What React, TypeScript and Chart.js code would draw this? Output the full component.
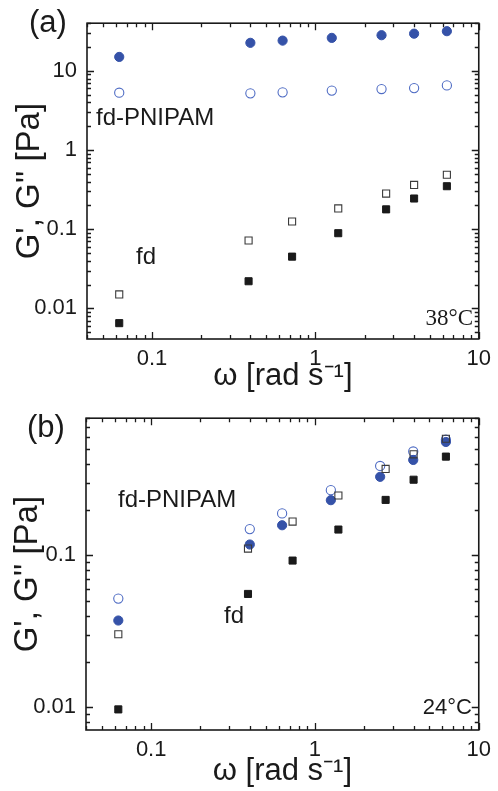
import React, { useEffect, useRef } from "react";
import { Chart, registerables } from "chart.js";

Chart.register(...registerables);

// ---------- data ----------
// angular frequency ω [rad/s]
const aOmegaCircle = [0.063, 0.40, 0.63, 1.26, 2.54, 4.02, 6.38];
const aOmegaSquare = [0.063, 0.39, 0.72, 1.38, 2.71, 4.02, 6.38];
// (a) 38 °C
const aPnipamG1 = [15, 22.6, 24.1, 26.1, 28.2, 29.5, 31.7]; // filled circles G'
const aPnipamG2 = [5.3, 5.2, 5.35, 5.63, 5.89, 6.06, 6.55]; // open circles G''
const aFdG2 = [0.015, 0.072, 0.125, 0.183, 0.282, 0.362, 0.487]; // open squares G''
const aFdG1 = [0.0065, 0.022, 0.045, 0.089, 0.178, 0.244, 0.349]; // filled squares G'

// (b) 24 °C
const bOmegaCircle = [0.063, 0.40, 0.63, 1.25, 2.5, 3.98, 6.3];
const bOmegaSquare = [0.063, 0.39, 0.73, 1.39, 2.7, 4.0, 6.3];
const bPnipamG2 = [0.052, 0.149, 0.189, 0.269, 0.388, 0.483, 0.577]; // open circles
const bPnipamG1 = [0.0373, 0.118, 0.158, 0.231, 0.329, 0.425, 0.558]; // filled circles
const bFdG2 = [0.0303, 0.111, 0.167, 0.248, 0.371, 0.463, 0.586]; // open squares
const bFdG1 = [0.0097, 0.0558, 0.0925, 0.148, 0.232, 0.315, 0.447]; // filled squares

const xTicks = [0.1, 1, 10];
const aYTicks = [0.01, 0.1, 1, 10];
const bYTicks = [0.01, 0.1];
const minorMultipliers = [1, 2, 3, 4, 5, 6, 7, 8, 9];

const xTitle = "ω [rad s⁻¹]";
const yTitle = "G', G'' [Pa]";

// ---------- styles ----------
const SANS = "'Liberation Sans', Arial, Helvetica, sans-serif";
const SERIF = "'Liberation Serif', 'Times New Roman', serif";
const BLUE = "#3552a8";
const BLUE_OPEN = "#4f6cc4";
const BLACK = "#1a1a1a";
const OPEN_SQ = "#3a3a3a";

const pts = (xs: number[], ys: number[]) => xs.map((x, i) => ({ x, y: ys[i] }));

const filledCircle = (data: any) => ({
  data, pointStyle: "circle", pointRadius: 4.6, backgroundColor: BLUE, borderColor: BLUE, borderWidth: 1, showLine: false,
});
const openCircle = (data: any) => ({
  data, pointStyle: "circle", pointRadius: 4.6, backgroundColor: "rgba(255,255,255,0)", borderColor: BLUE_OPEN, borderWidth: 1.1, showLine: false,
});
const filledSquare = (data: any) => ({
  data, pointStyle: "rect", pointRadius: 5, backgroundColor: BLACK, borderColor: BLACK, borderWidth: 1, showLine: false,
});
const openSquare = (data: any) => ({
  data, pointStyle: "rect", pointRadius: 5, backgroundColor: "rgba(255,255,255,0)", borderColor: OPEN_SQ, borderWidth: 1.1, showLine: false,
});

const frameTicks = {
  id: "frameTicks",
  afterDraw(chart: any) {
    const { ctx, chartArea } = chart;
    const { left, right, top, bottom } = chartArea;
    const xs = chart.scales.x;
    const ys = chart.scales.y;
    ctx.save();
    ctx.strokeStyle = "#1a1a1a";
    ctx.lineWidth = 1.3;
    const each = (scale: any, fn: (p: number, len: number) => void) => {
      const lo = Math.floor(Math.log10(scale.min));
      const hi = Math.ceil(Math.log10(scale.max));
      for (let d = lo; d <= hi; d++) {
        minorMultipliers.forEach((k) => {
          const v = k * Math.pow(10, d);
          if (v < scale.min * 0.999 || v > scale.max * 1.001) return;
          fn(scale.getPixelForValue(v), k === 1 ? 7 : 4);
        });
      }
    };
    ctx.beginPath();
    each(xs, (p, len) => {
      const px = Math.round(p) + 0.5;
      ctx.moveTo(px, bottom); ctx.lineTo(px, bottom - len);
      ctx.moveTo(px, top); ctx.lineTo(px, top + len);
    });
    each(ys, (p, len) => {
      const py = Math.round(p) + 0.5;
      ctx.moveTo(left, py); ctx.lineTo(left + len, py);
      ctx.moveTo(right, py); ctx.lineTo(right - len, py);
    });
    ctx.stroke();
    ctx.lineWidth = 1.6;
    ctx.strokeRect(left, top, right - left, bottom - top);
    ctx.restore();
  },
};

type Label = { text: string; x: number; y: number; font: string; align?: CanvasTextAlign };

const labelsPlugin = (labels: Label[]) => ({
  id: "panelLabels",
  afterDraw(chart: any) {
    const { ctx } = chart;
    ctx.save();
    ctx.fillStyle = "#1a1a1a";
    ctx.textBaseline = "middle";
    labels.forEach((l) => {
      ctx.font = l.font;
      ctx.textAlign = l.align || "left";
      ctx.fillText(l.text, l.x, l.y);
    });
    ctx.restore();
  },
});

function makeConfig(opts: {
  datasets: any[];
  yMin: number; yMax: number; yTicks: number[];
  yWidth: number; xHeight: number;
  padTop: number; padRight: number;
  yTitlePad: number; xTitlePad: number;
  labels: Label[];
}) {
  return {
    type: "scatter",
    data: { datasets: opts.datasets },
    options: {
      animation: false,
      responsive: false,
      devicePixelRatio: 1,
      layout: { padding: { top: opts.padTop, right: opts.padRight, left: 0, bottom: 0 } },
      plugins: { legend: { display: false }, tooltip: { enabled: false } },
      scales: {
        x: {
          type: "logarithmic",
          min: 0.04, max: 10,
          afterBuildTicks: (s: any) => { s.ticks = xTicks.map((v) => ({ value: v })); },
          afterFit: (s: any) => { s.height = opts.xHeight; },
          grid: { display: false, drawTicks: false },
          border: { display: false },
          ticks: {
            color: "#1a1a1a", padding: 7, maxRotation: 0, autoSkip: false,
            font: { family: SANS, size: 22 },
            callback: (v: any) => String(v),
          },
          title: {
            display: true, text: xTitle, color: "#1a1a1a",
            font: { family: SANS, size: 31 }, padding: { top: 0, bottom: opts.xTitlePad },
          },
        },
        y: {
          type: "logarithmic",
          min: opts.yMin, max: opts.yMax,
          afterBuildTicks: (s: any) => { s.ticks = opts.yTicks.map((v) => ({ value: v })); },
          afterFit: (s: any) => { s.width = opts.yWidth; },
          grid: { display: false, drawTicks: false },
          border: { display: false },
          ticks: {
            color: "#1a1a1a", padding: 10, autoSkip: false,
            font: { family: SANS, size: 22 },
            callback: (v: any) => String(v),
          },
          title: {
            display: true, text: yTitle, color: "#1a1a1a",
            font: { family: SANS, size: 33 }, padding: { top: opts.yTitlePad, bottom: 0 },
          },
        },
      },
    },
    plugins: [frameTicks, labelsPlugin(opts.labels)],
  } as any;
}

function Panel({ config, height }: { config: () => any; height: number }) {
  const ref = useRef<HTMLCanvasElement | null>(null);
  useEffect(() => {
    if (!ref.current) return;
    const chart = new Chart(ref.current, config());
    return () => chart.destroy();
  }, []);
  return <canvas ref={ref} width={498} height={height} style={{ display: "block", width: 498, height }} />;
}

const configA = () =>
  makeConfig({
    datasets: [
      filledCircle(pts(aOmegaCircle, aPnipamG1)),
      openCircle(pts(aOmegaCircle, aPnipamG2)),
      openSquare(pts(aOmegaSquare, aFdG2)),
      filledSquare(pts(aOmegaSquare, aFdG1)),
    ],
    yMin: 0.0041, yMax: 40, yTicks: aYTicks,
    yWidth: 87, xHeight: 56, padTop: 19, padRight: 17,
    yTitlePad: 10, xTitlePad: 0,
    labels: [
      { text: "(a)", x: 29, y: 23, font: `31px ${SANS}` },
      { text: "fd-PNIPAM", x: 96, y: 118, font: `24px ${SANS}` },
      { text: "fd", x: 136, y: 257, font: `24px ${SANS}` },
      { text: "38°C", x: 473, y: 319, font: `23px ${SERIF}`, align: "right" },
    ],
  });

const configB = () =>
  makeConfig({
    datasets: [
      filledSquare(pts(bOmegaSquare, bFdG1)),
      openSquare(pts(bOmegaSquare, bFdG2)),
      filledCircle(pts(bOmegaCircle, bPnipamG1)),
      openCircle(pts(bOmegaCircle, bPnipamG2)),
    ],
    yMin: 0.0071, yMax: 0.8, yTicks: bYTicks,
    yWidth: 86, xHeight: 61, padTop: 10, padRight: 14,
    yTitlePad: 8, xTitlePad: 1,
    labels: [
      { text: "(b)", x: 27, y: 33, font: `31px ${SANS}` },
      { text: "fd-PNIPAM", x: 118, y: 105, font: `24px ${SANS}` },
      { text: "fd", x: 224, y: 221, font: `24px ${SANS}` },
      { text: "24°C", x: 472, y: 313, font: `22px ${SANS}`, align: "right" },
    ],
  });

export default function App() {
  return (
    <div style={{ position: "absolute", left: 0, top: 0, width: 498, height: 791, background: "#fff" }}>
      <Panel config={configA} height={395} />
      <Panel config={configB} height={396} />
    </div>
  );
}
